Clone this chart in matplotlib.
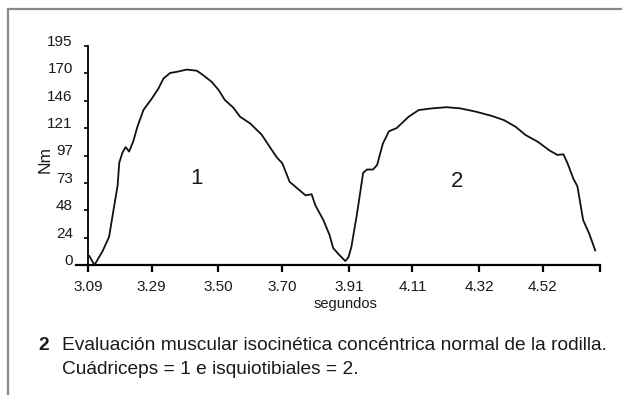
import matplotlib
matplotlib.use("Agg")
import matplotlib.pyplot as plt
from matplotlib.transforms import ScaledTranslation
from matplotlib.lines import Line2D

# ---- data ----
time_s = [3.094, 3.110, 3.135, 3.156, 3.170, 3.183, 3.188, 3.198, 3.208, 3.219, 3.232, 3.245,
          3.264, 3.290, 3.311, 3.327, 3.348, 3.369, 3.400, 3.432, 3.452, 3.479,
          3.500, 3.520, 3.547, 3.568, 3.600, 3.636, 3.657, 3.683, 3.701, 3.724,
          3.749, 3.774, 3.793, 3.805, 3.830, 3.849, 3.861, 3.880, 3.899,
          3.909, 3.918, 3.936, 3.955, 3.967, 3.986, 3.999, 4.017, 4.036, 4.061,
          4.098, 4.130, 4.173, 4.217, 4.260, 4.310, 4.360, 4.398, 4.435, 4.466,
          4.504, 4.541, 4.566, 4.585, 4.598, 4.616, 4.629, 4.647, 4.666, 4.685]
torque_nm = [8, 0, 12, 25, 49, 71, 91, 100, 105, 101, 110, 123,
             138, 148, 157, 166, 171, 172, 174, 173, 169, 163,
             156, 147, 140, 132, 126, 116, 107, 96, 90.5, 74,
             68, 62, 63, 53, 40, 27, 15, 9, 3.5,
             7, 16, 46, 82, 85, 85, 89, 108, 119, 122,
             132, 138, 139.5, 140.5, 139.5, 136.5, 132.7, 129, 123, 115.7,
             109.8, 102, 98, 98.6, 90.5, 77, 70, 40, 28, 13]

x_tick_labels = ["3.09", "3.29", "3.50", "3.70", "3.91", "4.11", "4.32", "4.52"]
y_tick_labels = ["0", "24", "48", "73", "97", "121", "146", "170", "195"]
curve_labels = ["1", "2"]
curve_label_pos = [(3.43, 77), (4.25, 74)]
x_end = 4.70
y_max = 195
caption_num = "2"
caption_lines = ["Evaluación muscular isocinética concéntrica normal de la rodilla.",
                 "Cuádriceps = 1 e isquiotibiales = 2."]

FONT = ["Liberation Sans", "DejaVu Sans"]
TXT = "#1a1a1a"

fig = plt.figure(figsize=(6.22, 3.95), dpi=100)
fig.patch.set_facecolor("white")

# frame around the figure (top and left)
fig.add_artist(Line2D([8/622, 1.0], [1 - 9/395, 1 - 9/395], color="#8a8a8a", lw=1.6,
                      transform=fig.transFigure))
fig.add_artist(Line2D([8/622, 8/622], [1 - 9/395, 0.0], color="#8a8a8a", lw=1.6,
                      transform=fig.transFigure))

ax = fig.add_axes([76/622, 130/395, 524/622, 219/395])
ax.plot(time_s, torque_nm, color="#111111", lw=1.3, clip_on=False)

x0 = float(x_tick_labels[0])
ax.set_xlim(x0 - 0.038, x_end)
ax.set_ylim(0, y_max)

for s in ["top", "right"]:
    ax.spines[s].set_visible(False)
ax.spines["left"].set_position(("data", x0))
ax.spines["left"].set_bounds(0, y_max)
ax.spines["left"].set_linewidth(1.3)
ax.spines["bottom"].set_linewidth(1.6)

xt = [float(v) for v in x_tick_labels] + [x_end]
ax.set_xticks(xt)
ax.set_xticklabels(x_tick_labels + [""], fontsize=11, color=TXT, family=FONT)
ax.tick_params(axis="x", direction="out", length=5, width=1.6, pad=6)

yt = [i * y_max / (len(y_tick_labels) - 1) for i in range(len(y_tick_labels))]
ax.set_yticks(yt)
ax.set_yticklabels(y_tick_labels, fontsize=11, color=TXT, family=FONT)
ax.tick_params(axis="y", direction="out", length=3, width=1.2, pad=8)
off = ScaledTranslation(0, 4/72, fig.dpi_scale_trans)
for lab in ax.get_yticklabels():
    lab.set_transform(lab.get_transform() + off)

for lab, (lx, ly) in zip(curve_labels, curve_label_pos):
    ax.text(lx, ly, lab, fontsize=16, ha="center", va="center", color=TXT, family=FONT)

fig.text(45/622, 1 - 160/395, "Nm", rotation=90, fontsize=12.5, ha="center", va="center",
         color=TXT, family=FONT)
fig.text(345/622, 1 - 304/395, "segundos", fontsize=10.5, ha="center", va="center",
         color=TXT, family=FONT)

fig.text(38/622, 1 - 345/395, caption_num, fontsize=13.8, fontweight="bold", ha="left",
         va="center", color=TXT, family=FONT)
fig.text(62/622, 1 - 345/395, caption_lines[0], fontsize=13.8, ha="left", va="center",
         color=TXT, family=FONT)
fig.text(62/622, 1 - 370/395, caption_lines[1], fontsize=13.8, ha="left", va="center",
         color=TXT, family=FONT)

fig.savefig("out.png", dpi=100, facecolor="white")
